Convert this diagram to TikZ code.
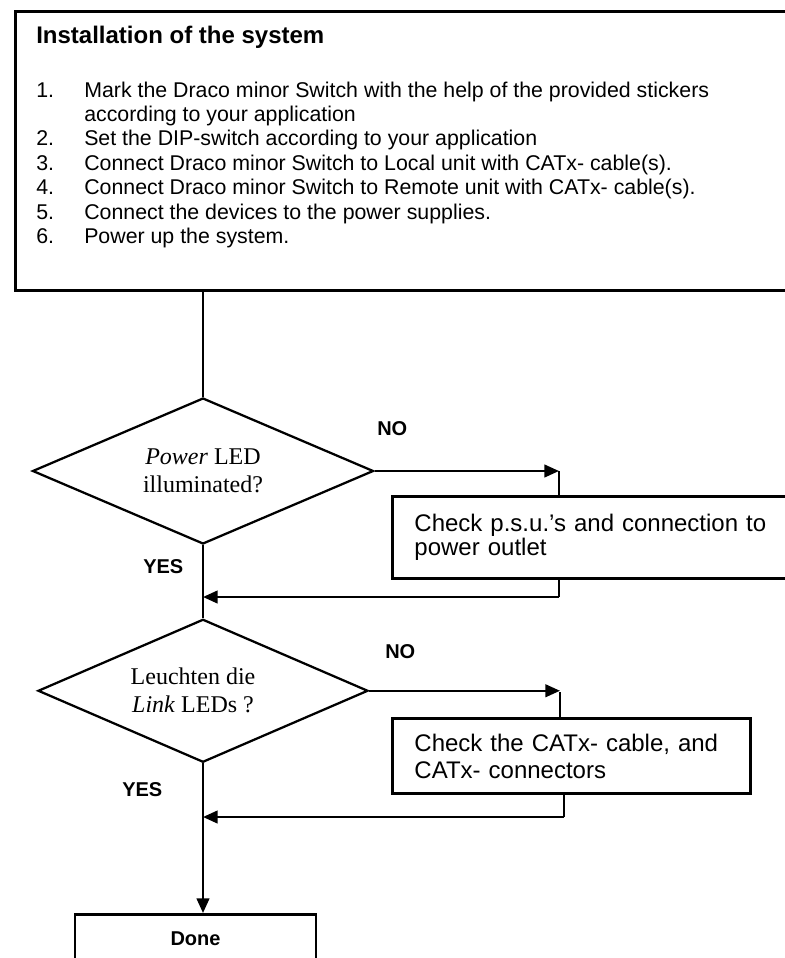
\documentclass[tikz,border=0pt]{standalone}
\usepackage{fontspec}
\setmainfont{Liberation Sans}
\newfontfamily\timesfont{Liberation Serif}
\usetikzlibrary{positioning,shapes.geometric,arrows.meta}

\begin{document}
\begin{tikzpicture}[
				x=0.75pt, y=-0.75pt,
				squarednode/.style={rectangle, draw=black, line width=2.2pt, inner sep=0pt},
				textnode/.style={rectangle, draw=black, line width=2.2pt, inner xsep=16.5pt, inner ysep=0pt, align=left, font=\fontsize{18}{16.5}\selectfont},
				decisionnode/.style={diamond, aspect=2.3, draw=black, line width=1.7pt, inner sep=0pt, align=center, font=\timesfont\fontsize{18}{21}\selectfont},
				labelnode/.style={inner sep=0pt, anchor=base west, font=\bfseries\fontsize{15}{18}\selectfont},
				connector/.style={line width=1.7pt},
				arrowline/.style={line width=1.7pt, -{Triangle[length=11pt,width=9.5pt]}},
				]
				\useasboundingbox (0,0) rectangle (785,958);
				
				%Nodes
				\node[squarednode, line width=2.5pt, anchor=north west, minimum width=589.5pt, minimum height=209.25pt](install) at (14,10){};
				\node[anchor=base west, inner sep=0pt, font=\bfseries\fontsize{18}{21.6}\selectfont](title) at (36,43){Installation of the system};
				\node[anchor=base west, inner sep=0pt, font=\fontsize{16}{18.3}\selectfont](steps) at (36,97){%
					\begin{tabular}[t]{@{}p{36pt}@{}l@{}}
						1. & Mark the Draco minor Switch with the help of the provided stickers\\
						   & according to your application\\
						2. & Set the DIP-switch according to your application\\
						3. & Connect Draco minor Switch to Local unit with CATx- cable(s).\\
						4. & Connect Draco minor Switch to Remote unit with CATx- cable(s).\\
						5. & Connect the devices to the power supplies.\\
						6. & Power up the system.
					\end{tabular}};
				\node[decisionnode, minimum width=255.75pt, minimum height=109.5pt](power) at (203,471){\textit{Power} LED\\illuminated?};
				\node[decisionnode, minimum width=247.5pt, minimum height=107.25pt](linkq)[below=54.75pt of power]{Leuchten die\hspace*{15pt}\\\textit{Link} LEDs ?\hspace*{15pt}};
				\node[textnode, anchor=north west, minimum width=306.75pt, minimum height=61.5pt, text width=273.75pt](psu) at (391,495){Check p.s.u.'s and connection to\\power outlet};
				\node[textnode, anchor=north west, minimum width=268.5pt, minimum height=56.25pt, text width=235.5pt, font=\fontsize{18}{20.25}\selectfont](cable) at (391,717){Check the CATx- cable, and\\CATx- connectors};
				\node[squarednode, anchor=north, minimum width=180.75pt, minimum height=36pt, font=\bfseries\fontsize{15}{18}\selectfont](done) at (195.5,913){Done};
				
				\node[labelnode](no1) at (377,435){NO};
				\node[labelnode](yes1) at (143,573){YES};
				\node[labelnode](no2) at (385,658){NO};
				\node[labelnode](yes2) at (122,796){YES};
				
				\coordinate (psuin) at (559,471);
				\coordinate (psuout) at (559,597);
				\coordinate (cablein) at (560,692);
				\coordinate (cableout) at (564,817);
				
				%Lines
				\draw[connector] (install.south -| power.north) -- (power.north);
				\draw[arrowline] (power.east) -- (power.east -| psuin);
				\draw[connector] (power.east -| psuin) -- (psuin |- psu.north);
				\draw[connector] (psuout |- psu.south) -- (psuout);
				\draw[arrowline] (psuout) -- (psuout -| power.south);
				\draw[connector] (power.south) -- (linkq.north);
				\draw[arrowline] (linkq.east) -- (linkq.east -| cablein);
				\draw[connector] (cablein) -- (cablein |- cable.north);
				\draw[connector] (cableout |- cable.south) -- (cableout);
				\draw[arrowline] (cableout) -- (cableout -| linkq.south);
				\draw[arrowline] (linkq.south) -- (linkq.south |- done.north);
				
			\end{tikzpicture}
\end{document}
